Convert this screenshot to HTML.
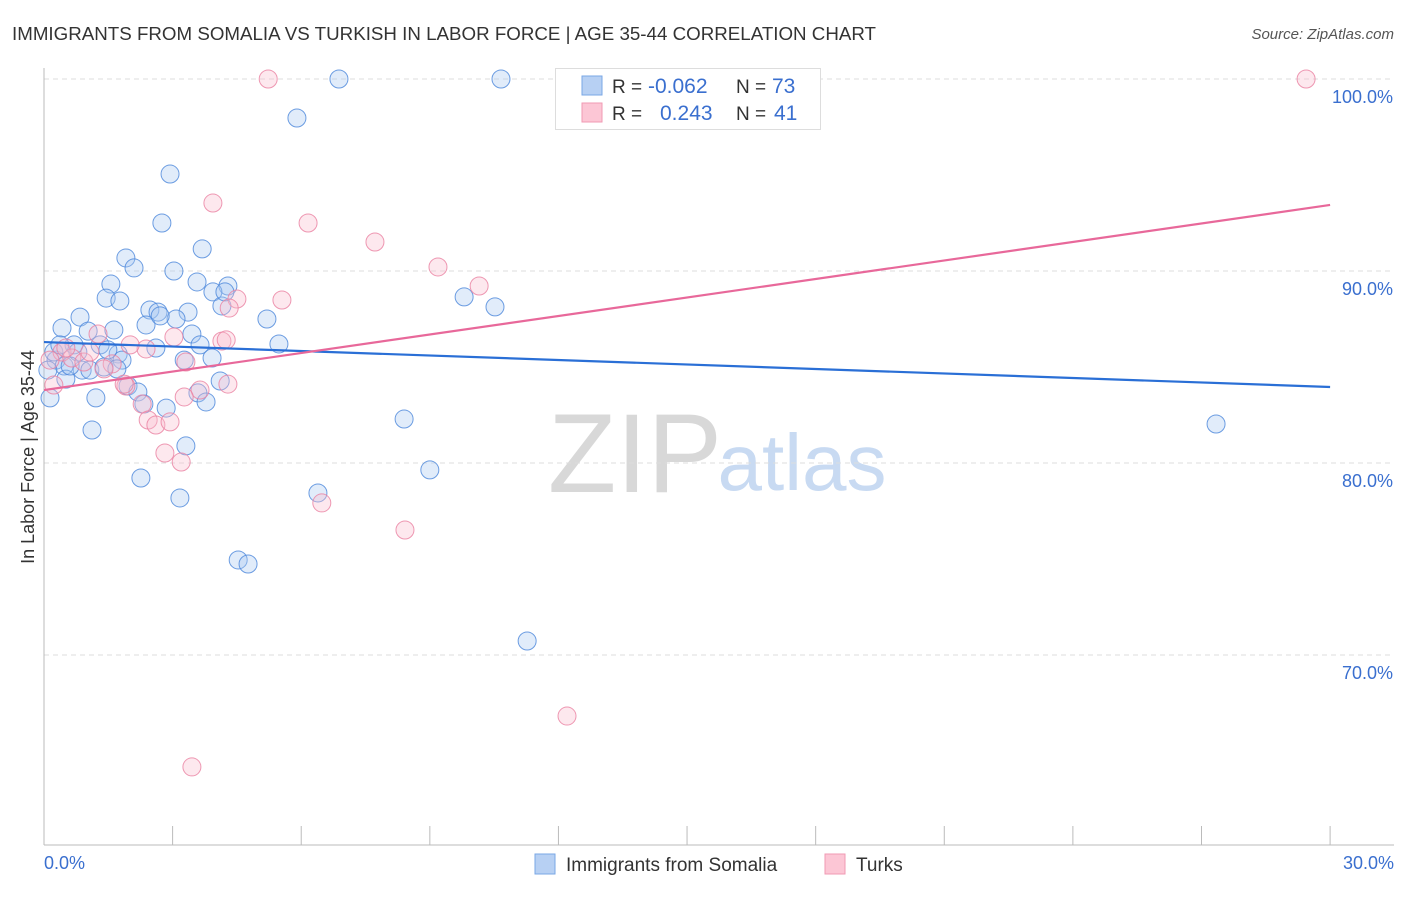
<!DOCTYPE html>
<html><head><meta charset="utf-8"><style>
body{margin:0;background:#fff;font-family:"Liberation Sans",sans-serif}
svg text{font-family:"Liberation Sans",sans-serif}
</style></head><body>
<svg id="c" width="1406" height="892" xmlns="http://www.w3.org/2000/svg">
<text x="12" y="40" font-size="18" fill="#333" textLength="864" lengthAdjust="spacingAndGlyphs">IMMIGRANTS FROM SOMALIA VS TURKISH IN LABOR FORCE | AGE 35-44 CORRELATION CHART</text>
<text x="1394" y="39" font-size="15" fill="#555" text-anchor="end" font-style="italic">Source: ZipAtlas.com</text>
<g>
<text x="635" y="492" font-size="112" fill="#d8d8d8" font-family="Liberation Serif,serif" text-anchor="middle">ZIP</text>
<text x="802" y="490" font-size="80" fill="#c8daf2" text-anchor="middle">atlas</text>
</g>
<g id="grid"></g>
<g id="axes"></g>
<g id="pts"></g>
<g id="trend"></g>
<text transform="translate(34,457) rotate(-90)" font-size="18" fill="#333" text-anchor="middle">In Labor Force | Age 35-44</text>
<text x="44" y="869" font-size="18" fill="#3a6fcf">0.0%</text>
<text x="1394" y="869" font-size="18" fill="#3a6fcf" text-anchor="end">30.0%</text>
<g>
<rect x="555.5" y="68.5" width="265" height="61" fill="#fff" stroke="#ddd"/>
<rect x="582" y="76" width="20" height="19" fill="#b7d0f3" stroke="#7aa7e6"/>
<rect x="582" y="103" width="20" height="19" fill="#fcc6d5" stroke="#f09ab3"/>
<text x="612" y="93" font-size="19" fill="#333">R = </text><text x="648" y="93" font-size="21" fill="#3a6fcf">-0.062</text>
<text x="736" y="93" font-size="19" fill="#333">N = </text><text x="772" y="93" font-size="21" fill="#3a6fcf">73</text>
<text x="612" y="120" font-size="19" fill="#333">R = </text><text x="660" y="120" font-size="21" fill="#3a6fcf">0.243</text>
<text x="736" y="120" font-size="19" fill="#333">N = </text><text x="774" y="120" font-size="21" fill="#3a6fcf">41</text>
</g>
<g>
<rect x="535" y="854" width="20" height="20" fill="#b7d0f3" stroke="#7aa7e6"/>
<text x="566" y="871" font-size="19" fill="#333">Immigrants from Somalia</text>
<rect x="825" y="854" width="20" height="20" fill="#fcc6d5" stroke="#f09ab3"/>
<text x="856" y="871" font-size="19" fill="#333">Turks</text>
</g>
</svg>
<script>
const yTicks=[100,90,80,70];
const yTickLabels=["100.0%","90.0%","80.0%","70.0%"];
const xTicks=[0,3,6,9,12,15,18,21,24,27,30];
const blueX=[6.88,10.66,5.90,2.94,2.75,3.69,1.91,2.10,3.03,3.57,4.29,3.94,1.56,1.45,1.77,4.15,2.47,2.66,3.36,3.08,2.38,0.84,0.42,1.03,1.63,5.20,3.45,3.64,2.61,5.48,0.70,1.31,1.73,0.28,0.47,0.89,1.07,1.40,1.82,3.27,3.92,0.51,4.11,1.96,2.19,3.59,3.78,1.21,2.33,2.85,1.12,3.31,2.26,3.17,6.39,8.40,9.00,4.53,4.76,11.27,27.34,9.80,10.52,0.14,0.09,0.23,0.79,0.37,0.61,1.70,4.22,2.71,1.49];
const blueY=[100,100,97.97,95.05,92.5,91.15,90.68,90.16,90.0,89.43,89.22,88.91,89.32,88.59,88.44,88.18,87.97,87.86,87.86,87.5,87.19,87.6,87.03,86.87,86.93,87.5,86.72,86.15,85.99,86.2,86.15,86.15,85.68,85.36,85.05,84.84,84.84,85.0,85.36,85.36,85.47,84.37,84.27,84.01,83.7,83.65,83.18,83.39,83.07,82.86,81.72,80.89,79.22,78.18,78.44,82.29,79.64,74.95,74.74,70.73,82.03,88.65,88.13,83.39,84.84,85.78,85.78,86.15,85.05,84.9,88.91,87.66,85.89];
const pinkX=[5.23,29.44,3.94,6.16,7.72,9.19,10.15,5.55,4.50,4.32,4.15,4.25,3.03,2.38,2.01,1.26,0.42,0.65,0.93,1.59,0.23,1.91,2.29,3.64,3.27,1.87,2.43,2.61,2.94,2.82,3.20,6.48,8.42,12.20,3.45,1.40,0.51,1.07,4.29,3.31,0.14];
const pinkY=[100,100,93.54,92.5,91.51,90.21,89.22,88.49,88.54,88.07,86.35,86.41,86.56,85.94,86.15,86.72,85.78,85.47,85.26,85.16,84.06,84.01,83.07,83.8,83.44,84.11,82.24,81.98,82.14,80.52,80.05,77.92,76.51,66.82,64.17,84.9,85.99,85.78,84.11,85.26,85.36];
const blueTrend=[86.30,83.96];
const pinkTrend=[83.80,93.44];
const trendX=[0,30];
const NS="http://www.w3.org/2000/svg";
const xs=v=>44+v*42.87, ys=v=>79+(100-v)*19.2;
function mk(t,a,p){const e=document.createElementNS(NS,t);for(const k in a)e.setAttribute(k,a[k]);p.appendChild(e);return e;}
const grid=document.getElementById('grid'),axes=document.getElementById('axes'),pts=document.getElementById('pts'),tr=document.getElementById('trend');
yTicks.forEach((v,i)=>{
 const l=mk('line',{x1:44,x2:1394,y1:ys(v),y2:ys(v),stroke:'#ddd','stroke-dasharray':'5,4'},grid);
 
 
 const t=mk('text',{x:1393,y:ys(v)+24,'font-size':18,fill:'#3a6fcf','text-anchor':'end'},grid);
 t.textContent=yTickLabels[i];
 
 
});
const ax=mk('line',{x1:44,x2:1394,y1:845,y2:845,stroke:'#bbb'},axes);


const ay=mk('line',{x1:44,x2:44,y1:68,y2:845,stroke:'#bbb'},axes);


xTicks.forEach(v=>{
 const t=mk('line',{x1:xs(v),x2:xs(v),y1:826,y2:845,stroke:'#bbb'},axes);
 
 
});
function dots(X,Y,fill,stroke,name){X.forEach((x,i)=>{
 const c=mk('circle',{cx:xs(x),cy:ys(Y[i]),r:9,fill:fill,'fill-opacity':0.35,stroke:stroke,'stroke-opacity':0.8,'stroke-width':1},pts);
 
 
});}
dots(blueX,blueY,'#a9c8f2','#4a86db','somalia-point');
dots(pinkX,pinkY,'#f8bccd','#ea7fa0','turks-point');
const b=mk('line',{x1:xs(trendX[0]),x2:xs(trendX[1]),y1:ys(blueTrend[0]),y2:ys(blueTrend[1]),stroke:'#2a6fd6','stroke-width':2.2},tr);


const p=mk('line',{x1:xs(trendX[0]),x2:xs(trendX[1]),y1:ys(pinkTrend[0]),y2:ys(pinkTrend[1]),stroke:'#e8689a','stroke-width':2.2},tr);


</script>
</body></html>
